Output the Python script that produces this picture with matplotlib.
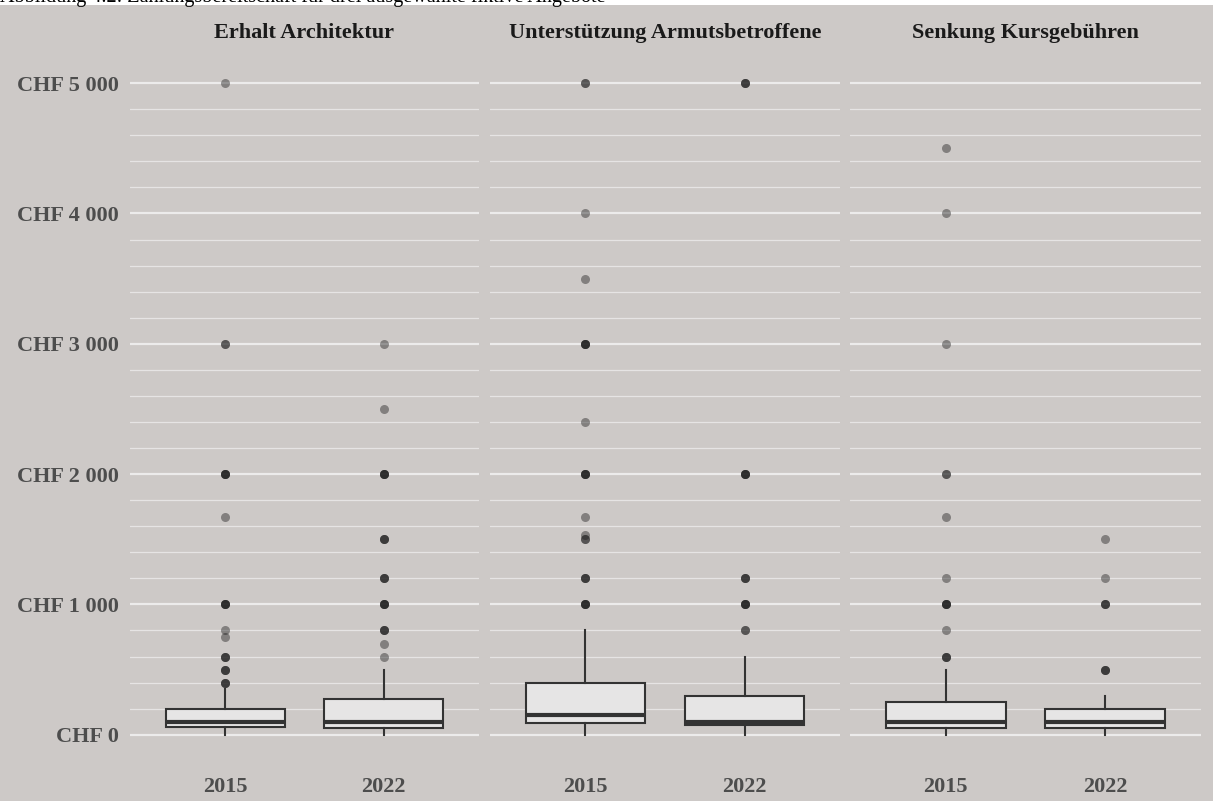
import matplotlib.pyplot as plt
from matplotlib.patches import Rectangle

plt.rcParams['font.family'] = ['Liberation Serif', 'DejaVu Serif']

# --- data ---
panels = ["Erhalt Architektur", "Unterstützung Armutsbetroffene", "Senkung Kursgebühren"]
years = ["2015", "2022"]

whisker_low = [[0, 0], [0, 0], [0, 0]]
q1 = [[60, 50], [92, 78], [50, 50]]
median = [[100, 100], [150, 100], [100, 100]]
q3 = [[200, 275], [400, 300], [250, 200]]
whisker_high = [[350, 500], [800, 600], [500, 300]]

# repeated values = several respondents at the same amount
outliers = [
    [[400, 400, 400, 500, 500, 500, 600, 600, 600, 750, 800, 1000, 1000, 1000, 1000,
      1667, 2000, 2000, 2000, 2000, 3000, 3000, 5000],
     [600, 700, 800, 800, 800, 1000, 1000, 1000, 1000, 1200, 1200, 1200,
      1500, 1500, 1500, 2000, 2000, 2000, 2000, 2500, 3000]],
    [[1000, 1000, 1000, 1000, 1200, 1200, 1200, 1500, 1500, 1530, 1667,
      2000, 2000, 2000, 2000, 2400, 3000, 3000, 3000, 3000, 3500, 4000, 5000, 5000],
     [800, 800, 1000, 1000, 1000, 1000, 1200, 1200, 1200,
      2000, 2000, 2000, 2000, 5000, 5000, 5000]],
    [[600, 600, 600, 800, 1000, 1000, 1000, 1000, 1200, 1667, 2000, 2000,
      3000, 4000, 4500],
     [500, 500, 500, 1000, 1000, 1000, 1200, 1500]],
]

major_ticks = [0, 1000, 2000, 3000, 4000, 5000]
minor_ticks = [v for v in range(0, 5001, 200) if v % 1000 != 0]
tick_labels = ["CHF 0", "CHF 1 000", "CHF 2 000", "CHF 3 000", "CHF 4 000", "CHF 5 000"]

BG = '#CDC9C7'
W, H = 1213, 801

fig = plt.figure(figsize=(W / 100, H / 100), dpi=100, facecolor='white')
fig.patches.append(Rectangle((0, 0), 1, 1 - 5 / H, transform=fig.transFigure,
                             facecolor=BG, edgecolor='none', zorder=-10))
# caption line, cropped at the top edge as in the source page
fig.text(0.0, 1 - 2 / H, "Abbildung 4.2: Zahlungsbereitschaft für drei ausgewählte fiktive Angebote",
         ha='left', va='baseline', fontsize=14.5, color='black')

panel_x = [(130, 479), (490, 840), (850, 1201)]
top_px, bot_px = 50.6, 767.3

for i, name in enumerate(panels):
    x0, x1 = panel_x[i]
    ax = fig.add_axes([x0 / W, 1 - bot_px / H, (x1 - x0) / W, (bot_px - top_px) / H])
    ax.set_facecolor(BG)

    stats = []
    for j, yr in enumerate(years):
        stats.append(dict(label=yr, whislo=whisker_low[i][j], q1=q1[i][j], med=median[i][j],
                          q3=q3[i][j], whishi=whisker_high[i][j], fliers=outliers[i][j]))

    ax.bxp(stats, positions=[1, 2], widths=0.75, patch_artist=True, showcaps=False,
           boxprops=dict(facecolor='#E6E5E5', edgecolor='#333333', linewidth=1.5),
           whiskerprops=dict(color='#333333', linewidth=1.5),
           medianprops=dict(color='#333333', linewidth=3),
           flierprops=dict(marker='o', markersize=6.5, markerfacecolor='#1A1A1A',
                           markeredgewidth=0, alpha=0.42))

    ax.set_xlim(0.4, 2.6)
    ax.set_ylim(-250, 5250)
    ax.set_yticks(major_ticks)
    ax.set_yticks(minor_ticks, minor=True)
    ax.grid(axis='y', which='major', color='#ECEBEB', linewidth=1.6)
    ax.grid(axis='y', which='minor', color='#E6E4E4', linewidth=0.9)
    ax.set_axisbelow(True)
    for s in ax.spines.values():
        s.set_visible(False)

    ax.tick_params(axis='both', which='both', length=0)
    ax.tick_params(axis='x', pad=7, labelsize=16, labelcolor='#4D4D4D')
    for lbl in ax.get_xticklabels():
        lbl.set_fontweight('bold')
    if i == 0:
        ax.set_yticklabels(tick_labels, fontsize=16, fontweight='bold', color='#4D4D4D')
        ax.tick_params(axis='y', pad=8)
    else:
        ax.set_yticklabels([])

    ax.text(0.5, 1.0246, name, transform=ax.transAxes, ha='center', va='center',
            fontsize=16, fontweight='bold', color='#1A1A1A')

fig.savefig('out.png', dpi=100, facecolor=fig.get_facecolor())
